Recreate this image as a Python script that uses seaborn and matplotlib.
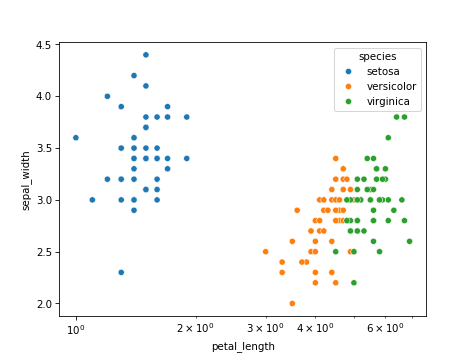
import pandas as pd
import matplotlib
matplotlib.use("Agg")
import matplotlib.pyplot as plt
import seaborn as sns

# iris: petal_length / sepal_width per species
setosa_petal_length = [1.4, 1.4, 1.3, 1.5, 1.4, 1.7, 1.4, 1.5, 1.4, 1.5,
                       1.5, 1.6, 1.4, 1.1, 1.2, 1.5, 1.3, 1.4, 1.7, 1.5,
                       1.7, 1.5, 1.0, 1.7, 1.9, 1.6, 1.6, 1.5, 1.4, 1.6,
                       1.6, 1.5, 1.5, 1.4, 1.5, 1.2, 1.3, 1.4, 1.3, 1.5,
                       1.3, 1.3, 1.3, 1.6, 1.9, 1.4, 1.6, 1.4, 1.5, 1.4]
setosa_sepal_width = [3.5, 3.0, 3.2, 3.1, 3.6, 3.9, 3.4, 3.4, 2.9, 3.1,
                      3.7, 3.4, 3.0, 3.0, 4.0, 4.4, 3.9, 3.5, 3.8, 3.8,
                      3.4, 3.7, 3.6, 3.3, 3.4, 3.0, 3.4, 3.5, 3.4, 3.2,
                      3.1, 3.4, 4.1, 4.2, 3.1, 3.2, 3.5, 3.6, 3.0, 3.4,
                      3.5, 2.3, 3.2, 3.5, 3.8, 3.0, 3.8, 3.2, 3.7, 3.3]

versicolor_petal_length = [4.7, 4.5, 4.9, 4.0, 4.6, 4.5, 4.7, 3.3, 4.6, 3.9,
                           3.5, 4.2, 4.0, 4.7, 3.6, 4.4, 4.5, 4.1, 4.5, 3.9,
                           4.8, 4.0, 4.9, 4.7, 4.3, 4.4, 4.8, 5.0, 4.5, 3.5,
                           3.8, 3.7, 3.9, 5.1, 4.5, 4.5, 4.7, 4.4, 4.1, 4.0,
                           4.4, 4.6, 4.0, 3.3, 4.2, 4.2, 4.2, 4.3, 3.0, 4.1]
versicolor_sepal_width = [3.2, 3.2, 3.1, 2.3, 2.8, 2.8, 3.3, 2.4, 2.9, 2.7,
                          2.0, 3.0, 2.2, 2.9, 2.9, 3.1, 3.0, 2.7, 2.2, 2.5,
                          3.2, 2.8, 2.5, 2.8, 2.9, 3.0, 2.8, 3.0, 2.9, 2.6,
                          2.4, 2.4, 2.7, 2.7, 3.0, 3.4, 3.1, 2.3, 3.0, 2.5,
                          2.6, 3.0, 2.6, 2.3, 2.7, 3.0, 2.9, 2.9, 2.5, 2.8]

virginica_petal_length = [6.0, 5.1, 5.9, 5.6, 5.8, 6.6, 4.5, 6.3, 5.8, 6.1,
                          5.1, 5.3, 5.5, 5.0, 5.1, 5.3, 5.5, 6.7, 6.9, 5.0,
                          5.7, 4.9, 6.7, 4.9, 5.7, 6.0, 4.8, 4.9, 5.6, 5.8,
                          6.1, 6.4, 5.6, 5.1, 5.6, 6.1, 5.6, 5.5, 4.8, 5.4,
                          5.6, 5.1, 5.1, 5.9, 5.7, 5.2, 5.0, 5.2, 5.4, 5.1]
virginica_sepal_width = [3.3, 2.7, 3.0, 2.9, 3.0, 3.0, 2.5, 2.9, 2.5, 3.6,
                         3.2, 2.7, 3.0, 2.5, 2.8, 3.2, 3.0, 3.8, 2.6, 2.2,
                         3.2, 2.8, 2.8, 2.7, 3.3, 3.2, 2.8, 3.0, 2.8, 3.0,
                         2.8, 3.8, 2.8, 2.8, 2.6, 3.0, 3.4, 3.1, 3.0, 3.1,
                         3.1, 3.1, 2.7, 3.2, 3.3, 3.0, 2.5, 3.0, 3.4, 3.0]

species = ["setosa", "versicolor", "virginica"]

df = pd.concat([
    pd.DataFrame({"petal_length": pl, "sepal_width": sw, "species": sp})
    for sp, pl, sw in zip(
        species,
        [setosa_petal_length, versicolor_petal_length, virginica_petal_length],
        [setosa_sepal_width, versicolor_sepal_width, virginica_sepal_width],
    )
], ignore_index=True)

fig, ax = plt.subplots(figsize=(6.4, 4.8), dpi=74)
sns.scatterplot(data=df, x="petal_length", y="sepal_width", hue="species", ax=ax)
ax.set_xscale("log")

fig.savefig("out.png", dpi=74)
